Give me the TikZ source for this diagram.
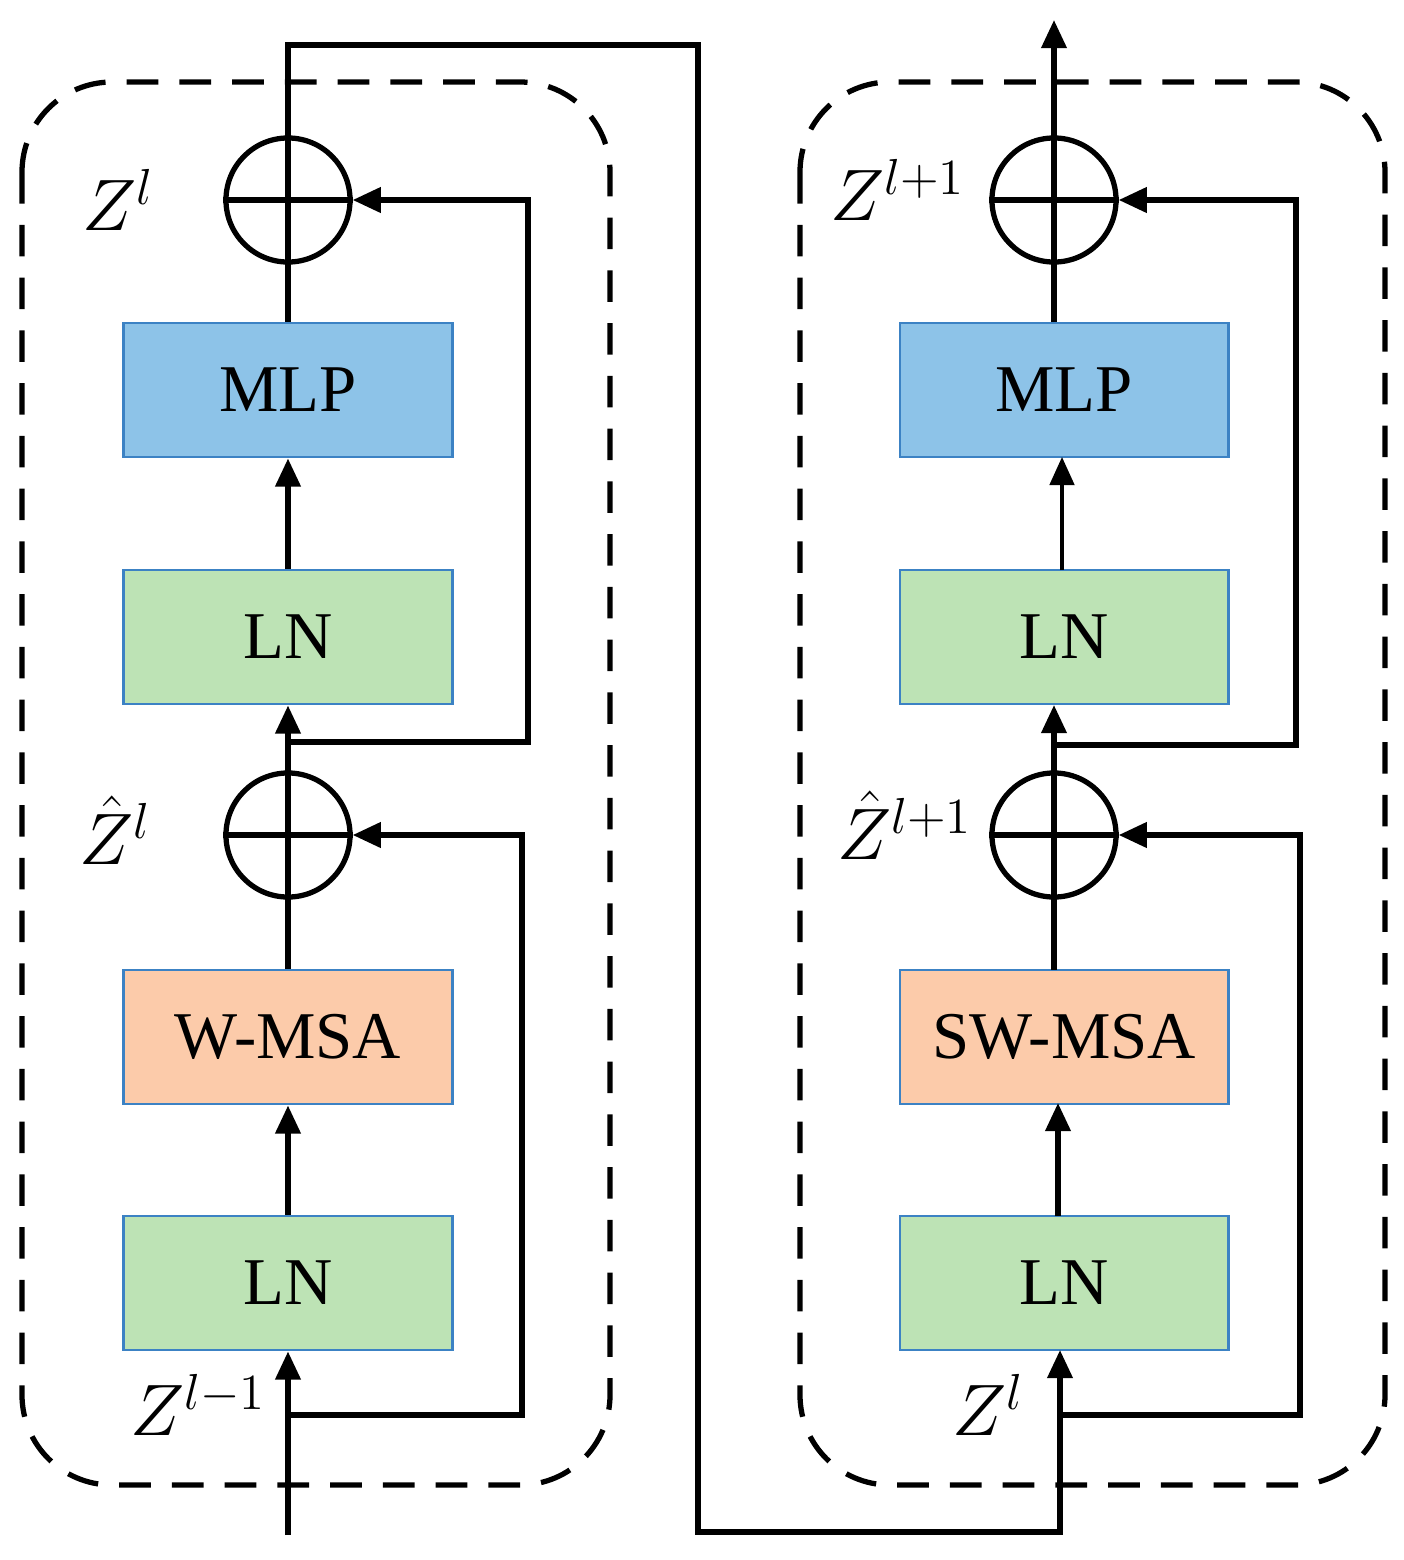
\documentclass[tikz,border=0pt]{standalone}
\usepackage{fontspec}
\setmainfont{Liberation Serif}
\usetikzlibrary{arrows.meta}
\definecolor{cblue}{HTML}{8DC3E8}
\definecolor{cgreen}{HTML}{BDE3B5}
\definecolor{corange}{HTML}{FCCBAA}
\definecolor{cedge}{HTML}{3C82C4}
\begin{document}
\begin{tikzpicture}[x=0.01cm,y=-0.01cm,line width=1.5pt,
  box/.style={draw=cedge,line width=0.8pt,minimum width=3.28cm,minimum height=1.34cm,inner sep=0pt,font=\fontsize{19}{22}\selectfont},
  plus/.style={draw,circle,minimum size=1.24cm,inner sep=0pt,line width=1.5pt},
  frame/.style={draw,dashed,rounded corners=0.9cm,line width=1.5pt,dash pattern=on 9pt off 6pt},
  arr/.style={-{Triangle[length=8pt,width=7pt]}},
  lab/.style={font=\fontsize{22}{26}\selectfont}]
\useasboundingbox (0,0) rectangle (1404,1560);
\draw[frame] (22,82) rectangle (610,1485);
\draw[frame] (800,82) rectangle (1385,1485);
% left column
\node[box,fill=cblue] (m1) at (288,390) {MLP};
\node[box,fill=cgreen] (n2) at (288,637) {LN};
\node[box,fill=corange] (w1) at (288,1037) {W-MSA};
\node[box,fill=cgreen] (n1) at (288,1283) {LN};
\node[plus] (p2) at (288,200) {};
\node[plus] (p1) at (288,835) {};
\foreach \p in {p1,p2}{\draw (\p.north)--(\p.south) (\p.west)--(\p.east);}
\coordinate (in) at (288,1535);
\coordinate (b1) at (288,1415);
\coordinate (b2) at (288,742);
\draw[arr] (in) -- (n1.south);
\draw[arr] (b1) -| (522,835) -- (p1.east);
\draw[arr] (n1.north) -- (w1.south);
\draw (w1.north) -- (p1.south);
\draw[arr] (p1.north) -- (n2.south);
\draw[arr] (b2) -| (528,200) -- (p2.east);
\draw[arr] (n2.north) -- (m1.south);
\draw (m1.north) -- (p2.south);
% right column
\node[box,fill=cblue] (m3) at (1064,390) {MLP};
\node[box,fill=cgreen] (n4) at (1064,637) {LN};
\node[box,fill=corange] (w2) at (1064,1037) {SW-MSA};
\node[box,fill=cgreen] (n3) at (1064,1283) {LN};
\node[plus] (p4) at (1054,200) {};
\node[plus] (p3) at (1054,835) {};
\foreach \p in {p3,p4}{\draw (\p.north)--(\p.south) (\p.west)--(\p.east);}
\coordinate (b3) at (1060,1415);
\coordinate (b4) at (1054,745);
\coordinate (out) at (1054,20);
\draw[arr] (p2.north) |- (698,45) |- (1060,1532) -- (1060,1350);
\draw[arr] (b3) -| (1300,835) -- (p3.east);
\draw[arr] (1058,1216) -- (1058,1103);
\draw (p3.south) -- (1054,970);
\draw[arr] (p3.north) -- (1054,705);
\draw[arr] (b4) -| (1296,200) -- (p4.east);
\draw[arr,line width=0.9pt] (1062,570) -- (1062,457);
\draw (1054,322) -- (p4.south);
\draw[arr] (p4.north) -- (out);
% labels
\node[lab] at (118,200) {$Z^{l}$};
\node[lab] at (115,830) {$\hat{Z}^{l}$};
\node[lab] at (198,1405) {$Z^{l-1}$};
\node[lab] at (898,190) {$Z^{l+1}$};
\node[lab] at (905,825) {$\hat{Z}^{l+1}$};
\node[lab] at (988,1405) {$Z^{l}$};
\end{tikzpicture}
\end{document}
